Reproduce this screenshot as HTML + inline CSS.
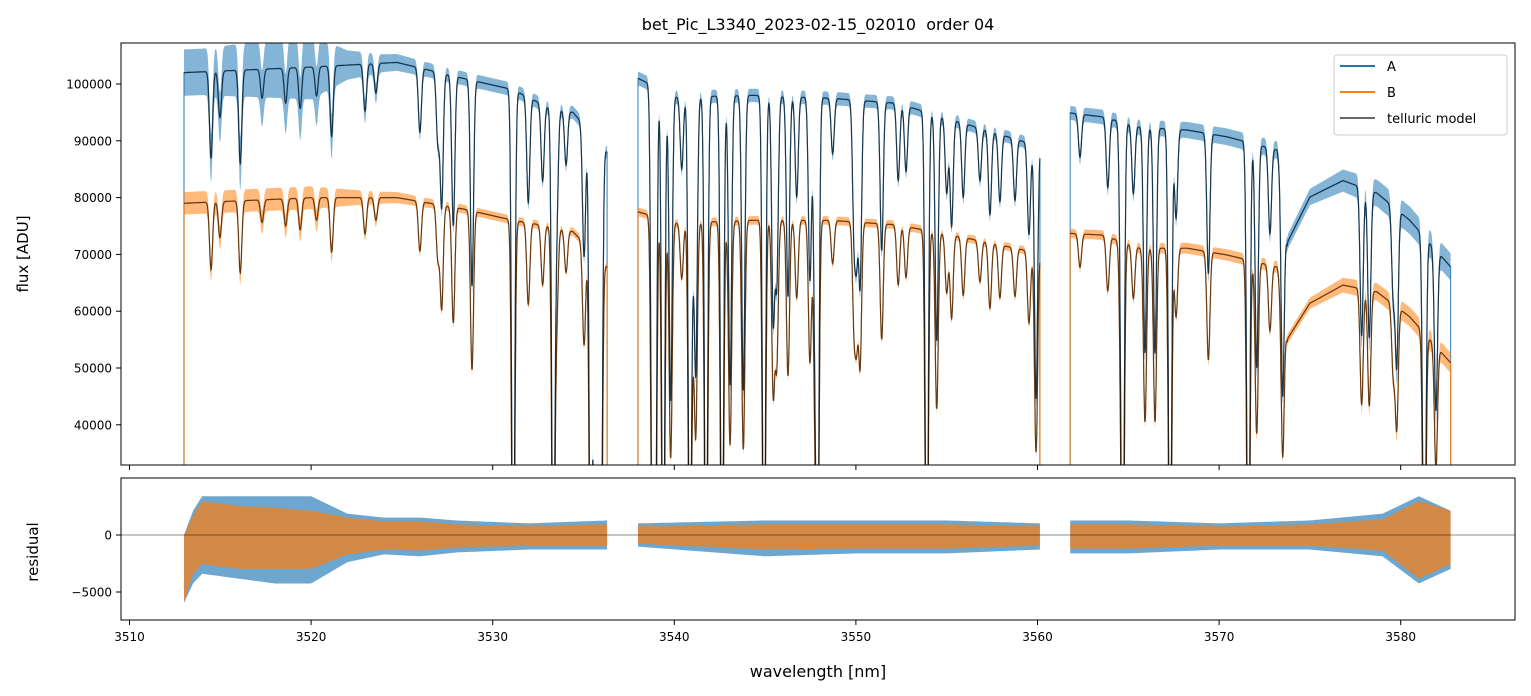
<!DOCTYPE html>
<html><head><meta charset="utf-8">
<style>
html,body{margin:0;padding:0;background:#fff;}
svg{display:block;font-family:"DejaVu Sans","Liberation Sans",sans-serif;}
</style></head>
<body>
<svg id="chart" width="1531" height="696" viewBox="0 0 1531 696" xmlns="http://www.w3.org/2000/svg">
<defs>
<clipPath id="clipTop"><rect x="121" y="43" width="1394" height="422"/></clipPath>
<clipPath id="clipBot"><rect x="121" y="478" width="1394" height="142"/></clipPath>
</defs>
<rect x="0" y="0" width="1531" height="696" fill="#fff"/>
<text x="818" y="30" text-anchor="middle" font-size="16" fill="#000" style="white-space:pre">bet_Pic_L3340_2023-02-15_02010  order 04</text>
<g id="topPlot" clip-path="url(#clipTop)"></g>
<g id="botPlot" clip-path="url(#clipBot)"></g>
<g id="axes"></g>
<text transform="translate(28,254) rotate(-90)" text-anchor="middle" font-size="15">flux [ADU]</text>
<text transform="translate(38,552) rotate(-90)" text-anchor="middle" font-size="15">residual</text>
<text x="818" y="677" text-anchor="middle" font-size="16">wavelength [nm]</text>
<g>
<rect x="1334" y="55" width="173" height="80" rx="3" fill="#fff" fill-opacity="0.8" stroke="#ccc"/>
<line x1="1340" y1="66" x2="1375" y2="66" stroke="#1f77b4" stroke-width="2"/>
<text x="1387" y="71" font-size="13">A</text>
<line x1="1340" y1="92" x2="1375" y2="92" stroke="#ff7f0e" stroke-width="2"/>
<text x="1387" y="97" font-size="13">B</text>
<line x1="1340" y1="118" x2="1375" y2="118" stroke="#000" stroke-opacity="0.6" stroke-width="2"/>
<text x="1387" y="123" font-size="13">telluric model</text>
</g>
</svg>
<script>
// ---- data ----
const segStart = [3513.0, 3538.0, 3561.8];
const segEnd = [3536.3, 3560.13, 3582.75];
const contWl = [3513.0,3520.12,3524.72,3528.37,3531.12,3532.99,3534.42,3536.3,
  3538.0,3540.15,3544.33,3548.57,3552.26,3555.9,3560.13,
  3561.8,3563.6,3565.64,3568.23,3570.43,3573.19,3573.45,3573.74,3575.0,3576.82,3578.69,3580.5,3582.75];
const contA = [102000,103000,103800,101000,99000,96000,95000,88000,
  101000,97700,98000,97500,96600,93100,89000,
  94900,94200,92400,91900,90700,88400,84000,72000,80100,83000,80800,76000,67800];
const contB = [79000,80000,80000,78000,76000,75000,74000,67800,
  77500,75500,76000,76000,75200,73000,70200,
  73700,73400,71100,71100,69900,67800,64000,55000,61400,64600,63400,59000,50900];
const lineWl = [3514.49,3514.98,3516.10,3517.3,3518.6,3519.4,3520.3,3521.13,3522.97,3523.57,3525.99,3526.98,3527.19,3527.83,3528.86,3531.13,3531.96,3532.75,3533.34,3533.52,3534.04,3535.03,3535.40,3535.63,3535.82,3535.95,
  3538.81,3538.94,3539.39,3539.80,3540.41,3540.86,3541.01,3541.18,3541.75,3542.63,3543.07,3543.80,3544.94,3545.45,3545.64,3546.26,3546.74,3547.47,3547.75,3547.88,3548.72,3549.90,3550.04,3550.23,3551.42,3552.33,3552.76,3553.90,3554.45,3555.00,3555.27,3555.91,3556.83,3557.38,3557.93,3558.76,3559.53,3559.92,
  3562.34,3563.87,3564.60,3564.69,3565.28,3565.92,3566.47,3567.30,3567.63,3569.41,3571.61,3572.07,3572.80,3573.50,3577.85,3578.27,3579.59,3579.78,3581.30,3581.94];
const lineDepth = [0.15,0.08,0.16,0.05,0.06,0.07,0.05,0.12,0.08,0.05,0.11,0.12,0.23,0.26,0.36,0.97,0.19,0.14,0.97,0.2,0.1,0.25,0.97,0.97,0.97,0.97,
  0.97,0.97,0.97,0.55,0.13,0.97,0.2,0.49,0.97,0.97,0.52,0.53,0.97,0.4,0.33,0.36,0.18,0.33,0.38,0.97,0.1,0.23,0.25,0.33,0.27,0.14,0.12,0.97,0.42,0.14,0.2,0.14,0.1,0.16,0.13,0.12,0.18,0.5,
  0.08,0.13,0.2,0.97,0.13,0.43,0.43,0.97,0.17,0.27,0.97,0.44,0.17,0.45,0.32,0.32,0.2,0.35,0.97,0.4];
const noiseWl = [3513.0,3514,3518,3520,3522,3524,3527,3536.3,3538,3548,3560.1,3561.8,3575,3579,3582.75];
const noiseA = [0.04,0.04,0.05,0.055,0.025,0.015,0.012,0.012,0.012,0.012,0.012,0.013,0.018,0.03,0.035];
const noiseB = [0.025,0.025,0.025,0.025,0.018,0.013,0.01,0.01,0.01,0.01,0.01,0.011,0.016,0.025,0.035];
const resWl = [3513.0,3513.5,3514,3516,3518,3520,3522,3524,3526,3528,3532,3536.3,
  3538,3545,3550,3555,3560.1,
  3561.8,3565,3570,3575,3579,3581,3582.75];
const resAhi = [0,2500,4000,4000,4000,4000,2200,1800,1800,1500,1200,1500,1200,1500,1500,1500,1200,1500,1500,1200,1500,2200,4000,2500];
const resAlo = [-7000,-5000,-4000,-4500,-5000,-5000,-2800,-2000,-2200,-1800,-1500,-1500,-1200,-2200,-1900,-1900,-1500,-1900,-1900,-1500,-1500,-2200,-5000,-3500];
const resBhi = [0,2000,3500,3000,2800,2500,1800,1400,1400,1100,900,1100,900,1100,1100,1100,900,1100,1100,900,1100,1600,3500,2500];
const resBlo = [-7000,-4000,-3000,-3500,-3500,-3500,-2000,-1500,-1600,-1300,-1100,-1100,-900,-1500,-1400,-1400,-1100,-1400,-1400,-1100,-1100,-1600,-4500,-3000];
const xTicks = [3510,3520,3530,3540,3550,3560,3570,3580];
const yTicksTop = [40000,50000,60000,70000,80000,90000,100000];
const yTicksBot = [-5000,0];
const yTickBotLabels = ["\u22125000","0"];

// ---- scales ----
const xs = wl => 129.5 + (wl - 3510) * 18.16;
const yt = f => 84 + (100000 - f) * 0.00568;
const yb = r => 535 - r * 0.0114;
const NS = "http://www.w3.org/2000/svg";
const SIG = 0.085;
function interp(xa, ya, x) {
  if (x <= xa[0]) return ya[0];
  for (let i = 1; i < xa.length; i++) {
    if (x <= xa[i]) { const t = (x - xa[i-1]) / (xa[i] - xa[i-1] || 1); return ya[i-1] + t * (ya[i] - ya[i-1]); }
  }
  return ya[ya.length - 1];
}
function trans(wl) {
  let t = 1;
  for (let i = 0; i < lineWl.length; i++) {
    const d = wl - lineWl[i];
    if (Math.abs(d) < 0.6) t *= 1 - lineDepth[i] * Math.exp(-0.5 * (d / SIG) * (d / SIG));
  }
  return t;
}
function mk(tag, attrs, parent) {
  const e = document.createElementNS(NS, tag);
  for (const k in attrs) e.setAttribute(k, attrs[k]);
  parent.appendChild(e);
  return e;
}
const topG = document.getElementById('topPlot');
const botG = document.getElementById('botPlot');
const axesG = document.getElementById('axes');

const step = 0.01;
const RS = 0.85;
const layers = {bandA: [], bandB: [], A: [], B: [], mA: [], mB: [], rA: [], rB: []};
for (let s = 0; s < segStart.length; s++) {
  const up = {A: [], B: [], rA: [], rB: []}, lo = {A: [], B: [], rA: [], rB: []};
  let pA = [], pB = [], mA = [], mB = [];
  pA.push(xs(segStart[s]).toFixed(1) + ',' + yt(0).toFixed(1));
  pB.push(xs(segStart[s]).toFixed(1) + ',' + yt(0).toFixed(1));
  for (let wl = segStart[s]; wl <= segEnd[s] + 1e-9; wl += step) {
    const t = trans(wl);
    const fa = interp(contWl, contA, wl) * t, fb = interp(contWl, contB, wl) * t;
    const x = xs(wl).toFixed(1);
    pA.push(x + ',' + yt(fa).toFixed(1));
    pB.push(x + ',' + yt(fb).toFixed(1));
    mA.push(x + ',' + yt(fa).toFixed(1));
    mB.push(x + ',' + yt(fb).toFixed(1));
    const na = interp(noiseWl, noiseA, wl), nb = interp(noiseWl, noiseB, wl);
    const ca = interp(contWl, contA, wl), cb = interp(contWl, contB, wl);
    up.A.push(x + ',' + yt(fa + ca * na).toFixed(1)); lo.A.push(x + ',' + yt(fa - ca * na).toFixed(1));
    up.B.push(x + ',' + yt(fb + cb * nb).toFixed(1)); lo.B.push(x + ',' + yt(fb - cb * nb).toFixed(1));
    up.rA.push(x + ',' + yb(RS * interp(resWl, resAhi, wl)).toFixed(1)); lo.rA.push(x + ',' + yb(RS * interp(resWl, resAlo, wl)).toFixed(1));
    up.rB.push(x + ',' + yb(RS * interp(resWl, resBhi, wl)).toFixed(1)); lo.rB.push(x + ',' + yb(RS * interp(resWl, resBlo, wl)).toFixed(1));
  }
  pA.push(xs(segEnd[s]).toFixed(1) + ',' + yt(0).toFixed(1));
  pB.push(xs(segEnd[s]).toFixed(1) + ',' + yt(0).toFixed(1));
  layers.bandA.push(up.A.concat(lo.A.reverse()).join(' '));
  layers.bandB.push(up.B.concat(lo.B.reverse()).join(' '));
  layers.rA.push(up.rA.concat(lo.rA.reverse()).join(' '));
  layers.rB.push(up.rB.concat(lo.rB.reverse()).join(' '));
  layers.A.push(pA.join(' ')); layers.B.push(pB.join(' '));
  layers.mA.push(mA.join(' ')); layers.mB.push(mB.join(' '));
}
for (let s = 0; s < segStart.length; s++) {
  let e = mk('polygon', {points: layers.bandA[s], fill: '#1f77b4', 'fill-opacity': 0.55}, topG);
  
  
  e = mk('polyline', {points: layers.A[s], fill: 'none', stroke: '#1f77b4', 'stroke-opacity': 0.8, 'stroke-width': 1.2}, topG);
  
  
}
for (let s = 0; s < segStart.length; s++) {
  let e = mk('polygon', {points: layers.bandB[s], fill: '#ff7f0e', 'fill-opacity': 0.55}, topG);
  
  
  e = mk('polyline', {points: layers.B[s], fill: 'none', stroke: '#ff7f0e', 'stroke-opacity': 0.8, 'stroke-width': 1.2}, topG);
  
  
}
for (let s = 0; s < segStart.length; s++) {
  let e = mk('polyline', {points: layers.mA[s], fill: 'none', stroke: '#000', 'stroke-opacity': 0.6, 'stroke-width': 1.2}, topG);
  
  
  e = mk('polyline', {points: layers.mB[s], fill: 'none', stroke: '#000', 'stroke-opacity': 0.6, 'stroke-width': 1.2}, topG);
  
  
}
for (let s = 0; s < segStart.length; s++) {
  let e = mk('polygon', {points: layers.rA[s], fill: '#1f77b4', 'fill-opacity': 0.65}, botG);
  
  
}
for (let s = 0; s < segStart.length; s++) {
  let e = mk('polygon', {points: layers.rB[s], fill: '#ff7f0e', 'fill-opacity': 0.7}, botG);
  
  
}
let zl = mk('line', {x1: 121, x2: 1515, y1: yb(0), y2: yb(0), stroke: '#000', 'stroke-opacity': 0.6, 'stroke-width': 0.8}, botG);



let fr = mk('rect', {x: 121, y: 43, width: 1394, height: 422, fill: 'none', stroke: '#000', 'stroke-width': 1}, axesG);


fr = mk('rect', {x: 121, y: 478, width: 1394, height: 142, fill: 'none', stroke: '#000', 'stroke-width': 1}, axesG);


xTicks.forEach(v => {
  const x = xs(v);
  let t = mk('line', {x1: x, x2: x, y1: 465, y2: 470, stroke: '#000'}, axesG);
  
  
  t = mk('line', {x1: x, x2: x, y1: 620, y2: 625, stroke: '#000'}, axesG);
  
  
  const l = mk('text', {x: x, y: 641, 'text-anchor': 'middle', 'font-size': 12}, axesG);
  l.textContent = v;
  
  
});
yTicksTop.forEach(v => {
  const y = yt(v);
  const t = mk('line', {x1: 116, x2: 121, y1: y, y2: y, stroke: '#000'}, axesG);
  
  
  const l = mk('text', {x: 112, y: y + 4.5, 'text-anchor': 'end', 'font-size': 12}, axesG);
  l.textContent = v;
  
  
});
yTicksBot.forEach((v, i) => {
  const y = yb(v);
  const t = mk('line', {x1: 116, x2: 121, y1: y, y2: y, stroke: '#000'}, axesG);
  
  
  const l = mk('text', {x: 112, y: y + 4.5, 'text-anchor': 'end', 'font-size': 12}, axesG);
  l.textContent = yTickBotLabels[i];
  
  
});
</script>
</body></html>
